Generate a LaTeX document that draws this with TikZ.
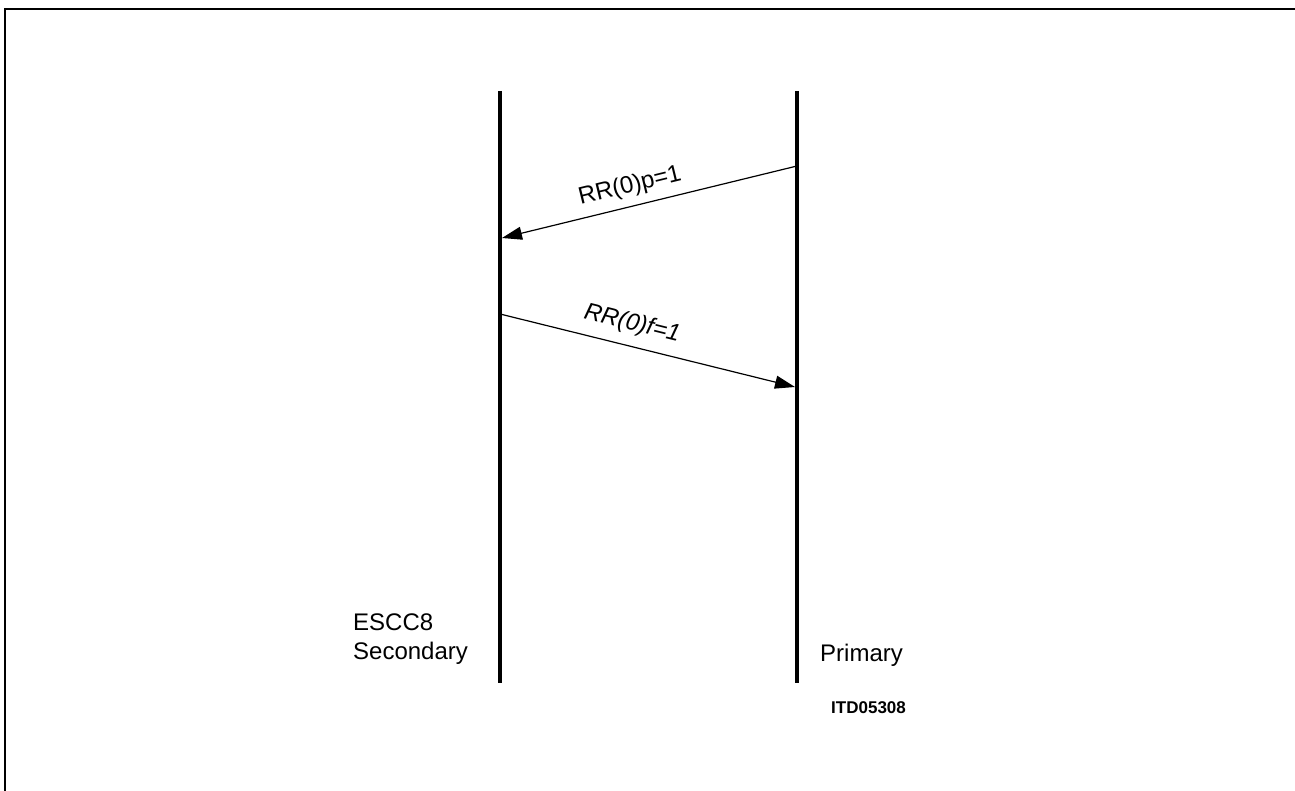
\documentclass[tikz,border=0pt]{standalone}
\usepackage{fontspec}
\setmainfont{Liberation Sans}
\usetikzlibrary{arrows.meta}

\begin{document}
\begin{tikzpicture}[
    x=1pt, y=-1pt,
    lifeline/.style={line width=4pt},
    msg/.style={-{Triangle[length=20pt,width=13pt]}, line width=1.2pt},
    lbl/.style={font=\fontsize{24}{29}\selectfont, inner sep=0pt},
    tag/.style={font=\fontsize{17}{20}\selectfont\bfseries, inner sep=0pt}
]
\useasboundingbox (0,0) rectangle (1295,791);
\draw[line width=2pt] (1295,9) -- (5,9) -- (5,791);

\coordinate (secTop) at (500,91);
\coordinate (secBot) at (500,683);
\coordinate (priTop) at (797,91);
\coordinate (priBot) at (797,683);

\draw[lifeline] (secTop) -- (secBot);
\draw[lifeline] (priTop) -- (priBot);

\coordinate (pollOut) at (797,166);
\coordinate (pollIn) at (502,238);
\coordinate (finOut) at (500,314);
\coordinate (finIn) at (795,387);

\draw[msg] (pollOut) -- node[lbl, sloped, above=8pt, pos=0.55] (pollLbl) {RR(0)p=1} (pollIn);
\draw[msg] (finOut) -- node[lbl, sloped, above=10pt, pos=0.43, font=\fontsize{24}{29}\selectfont\itshape] (finLbl) {RR(0)f=1} (finIn);

\node[lbl, anchor=north west, align=left] (secLbl) at (353,614) {ESCC8\\Secondary};
\node[lbl, anchor=base west] (priLbl) at (820,661) {Primary};
\node[tag, anchor=base west] (figTag) at (831,713) {ITD05308};

\end{tikzpicture}
\end{document}
